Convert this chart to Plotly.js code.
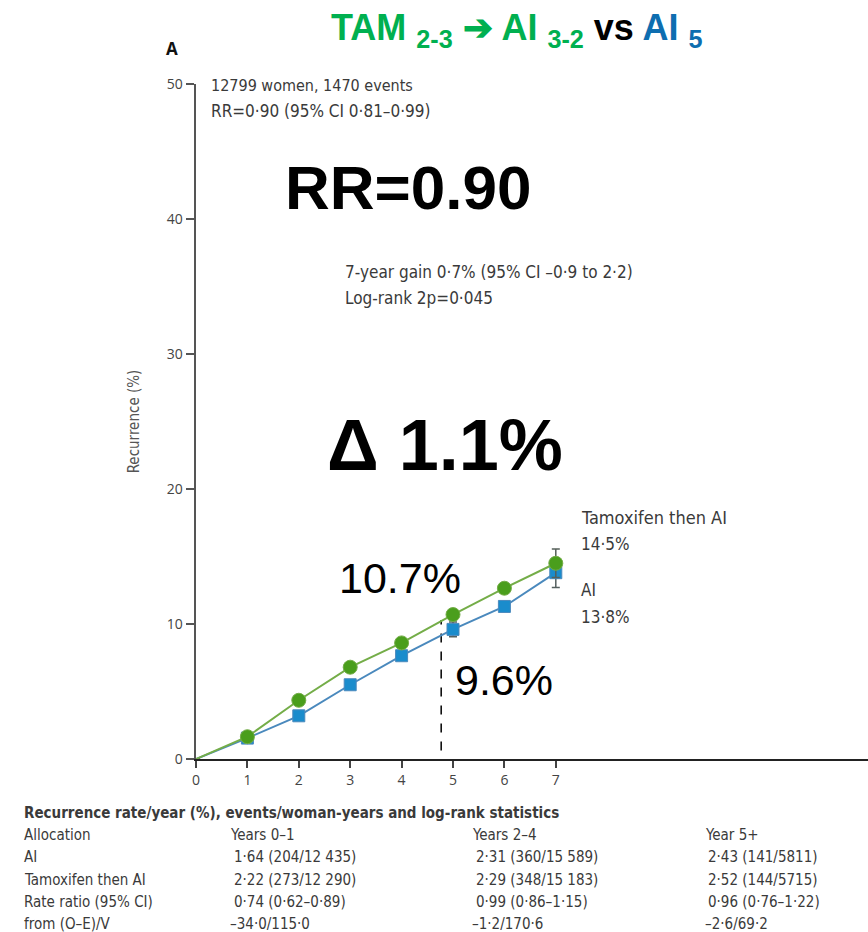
<!DOCTYPE html>
<html>
<head>
<meta charset="utf-8">
<script src="https://cdn.plot.ly/plotly-3.0.1.min.js"></script>
<style>
html,body{margin:0;padding:0;background:#fff;}
#chart{width:868px;height:932px;}
</style>
</head>
<body>
<div id="chart"></div>
<script>
// ---- data ----
const years = [0, 1, 2, 3, 4, 5, 6, 7];
const tamThenAI = [0, 1.65, 4.35, 6.8, 8.6, 10.7, 12.65, 14.5];
const aiOnly = [0, 1.55, 3.2, 5.5, 7.65, 9.6, 11.3, 13.8];
const tamErr = [0, 0, 0, 0, 0, 0, 0, 1.05];
const aiErr = [0, 0, 0, 0, 0, 0.55, 0, 1.1];
const xTickVals = [0, 1, 2, 3, 4, 5, 6, 7];
const yTickVals = [0, 10, 20, 30, 40, 50];
const markerSizesTam = [0, 14, 14, 14, 14, 14, 14, 14];
const markerSizesAI = [0, 12, 12, 12, 12, 12, 12, 12];
const gapYear = 4.77;
const gapTop = 10.3;

const tableTitle = 'Recurrence rate/year (%), events/woman-years and log-rank statistics';
const rowLabels = ['Allocation', 'AI', 'Tamoxifen then AI', 'Rate ratio (95% CI)', 'from (O–E)/V'];
const colYears01 = ['Years 0–1', '1·64 (204/12 435)', '2·22 (273/12 290)', '0·74 (0·62–0·89)', '–34·0/115·0'];
const colYears24 = ['Years 2–4', '2·31 (360/15 589)', '2·29 (348/15 183)', '0·99 (0·86–1·15)', '–1·2/170·6'];
const colYears5 = ['Year 5+', '2·43 (141/5811)', '2·52 (144/5715)', '0·96 (0·76–1·22)', '–2·6/69·2'];

// ---- styling helpers ----
const L = 196, T = 84, W = 672, H = 675;
const px = x => (x - L) / W;
const py = y => (T + H - y) / H;
const narrow = "'Liberation Sans Narrow', 'DejaVu Sans Condensed', 'Open Sans', sans-serif";
const grey = '#3a3a3a';
const green = '#4a9e1c', greenLine = '#74ad48';
const blue = '#1a8ccc', blueLine = '#4a89bd';

const traces = [
  {
    x: years, y: aiOnly, type: 'scatter', mode: 'lines+markers', name: 'AI',
    line: {color: blueLine, width: 2},
    marker: {symbol: 'square', size: markerSizesAI, color: blue, opacity: 1},
    error_y: {type: 'data', array: aiErr, color: '#55605f', thickness: 1.5, width: 4}
  },
  {
    x: years, y: tamThenAI, type: 'scatter', mode: 'lines+markers', name: 'Tamoxifen then AI',
    line: {color: greenLine, width: 2},
    marker: {symbol: 'circle', size: markerSizesTam, color: green, opacity: 1},
    error_y: {type: 'data', array: tamErr, color: '#55605a', thickness: 1.5, width: 4}
  }
];

const ann = [];
function txt(x, y, text, size, opts) {
  ann.push(Object.assign({
    xref: 'paper', yref: 'paper', x: px(x), y: py(y), text: text,
    showarrow: false, xanchor: 'left', yanchor: 'middle',
    font: {family: narrow, size: size, color: grey}
  }, opts || {}));
}

// title
txt(517, 30, '<b><span style="color:#00B050">TAM <sub>2-3</sub> ➔ AI <sub>3-2</sub></span> <span style="color:#000">vs</span> <span style="color:#0E6EB0">AI <sub>5</sub></span></b>', 36,
  {xanchor: 'center', font: {family: 'Liberation Sans, Arial, sans-serif', size: 36, color: '#00B050'}});
txt(172, 48, '<b>A</b>', 17, {xanchor: 'center', font: {family: 'Open Sans, sans-serif', size: 17, color: '#111'}});

txt(209, 85, '12799 women, 1470 events', 16);
txt(209, 111, 'RR=0·90 (95% CI 0·81–0·99)', 17);
txt(343, 272, '7-year gain 0·7% (95% CI –0·9 to 2·2)', 17);
txt(343, 298, 'Log-rank 2p=0·045', 17);

txt(408, 188, '<b>RR=0.90</b>', 62, {xanchor: 'center', font: {family: 'Liberation Sans, Arial, sans-serif', size: 62, color: '#000'}});
txt(445, 445, '<b>Δ 1.1%</b>', 72, {xanchor: 'center', font: {family: 'Liberation Sans, Arial, sans-serif', size: 72, color: '#000'}});
txt(400, 578, '10.7%', 43, {xanchor: 'center', bgcolor: '#fff', font: {family: 'Liberation Sans, Arial, sans-serif', size: 43, color: '#000'}});
txt(504, 680, '9.6%', 43, {xanchor: 'center', bgcolor: '#fff', font: {family: 'Liberation Sans, Arial, sans-serif', size: 43, color: '#000'}});

txt(579, 517, 'Tamoxifen then AI', 18);
txt(579, 544, '14·5%', 17);
txt(579, 590, 'AI', 17);
txt(579, 617, '13·8%', 17);

// table
txt(22, 813, '<b>' + tableTitle + '</b>', 15);
const rowY = [835, 857, 880, 902, 924];
rowY.forEach((y, i) => {
  txt(22, y, rowLabels[i], 15);
  txt(i === 0 || i === 4 ? 228 : 232, y, colYears01[i], 15);
  txt(i === 0 || i === 4 ? 470 : 474, y, colYears24[i], 15);
  txt(i === 0 || i === 4 ? 703 : 706, y, colYears5[i], 15);
});

const layout = {
  width: 868, height: 932,
  margin: {l: L, r: 868 - L - W, t: T, b: 932 - T - H},
  paper_bgcolor: '#fff', plot_bgcolor: '#fff',
  showlegend: false,
  xaxis: {
    range: [0, W / 51.4], tickvals: xTickVals, ticktext: xTickVals.map(String),
    showgrid: false, zeroline: false, showline: true, linecolor: '#222', linewidth: 2,
    ticks: 'outside', ticklen: 7, tickwidth: 2, tickcolor: '#444',
    tickfont: {family: 'Open Sans, sans-serif', size: 14, color: '#444'}
  },
  yaxis: {
    range: [0, 50], tickvals: yTickVals,
    showgrid: false, zeroline: false, showline: true, linecolor: '#555', linewidth: 2.5,
    ticks: 'outside', ticklen: 8, tickwidth: 1.5, tickcolor: '#555',
    tickfont: {family: 'Open Sans, sans-serif', size: 14, color: '#444'},
    title: {text: 'Recurrence (%)', font: {family: narrow, size: 15, color: '#555'}, standoff: 24}
  },
  shapes: [{
    type: 'line', xref: 'x', yref: 'y', x0: gapYear, x1: gapYear, y0: -0.7, y1: gapTop,
    line: {color: '#000', width: 1.5, dash: 'dash'}, layer: 'below'
  }],
  annotations: ann
};

Plotly.newPlot('chart', traces, layout, {displayModeBar: false, staticPlot: true});
</script>
</body>
</html>
